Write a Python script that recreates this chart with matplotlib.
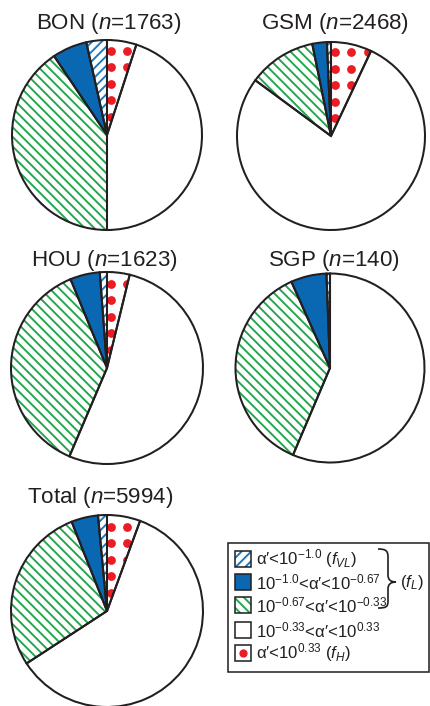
import matplotlib
matplotlib.use("Agg")
import matplotlib.pyplot as plt
import numpy as np
from matplotlib.patches import Rectangle, PathPatch
from matplotlib.path import Path

plt.rcParams["font.family"] = ["Liberation Sans", "DejaVu Sans"]
plt.rcParams["mathtext.fontset"] = "custom"
plt.rcParams["mathtext.rm"] = "Liberation Sans"
plt.rcParams["mathtext.it"] = "Liberation Sans:italic"
plt.rcParams["mathtext.bf"] = "Liberation Sans:bold"
plt.rcParams["hatch.linewidth"] = 1.6

DPI = 86
W, H = 430, 706

# data (percent of cases in each alpha' class)
sites = ["BON", "GSM", "HOU", "SGP", "Total"]
counts = [1763, 2468, 1623, 140, 5994]
frac_vl = [3.5, 0.7, 1.2, 0.6, 1.5]
frac_low = [5.9, 2.5, 5.0, 6.1, 4.5]
frac_midlow = [40.6, 11.7, 37.4, 36.9, 28.2]
frac_mid = [45.0, 78.1, 52.6, 56.4, 60.2]
frac_high = [5.0, 7.0, 3.8, 0.0, 5.6]

legend_labels = [
    "α′<$10^{-1.0}$ ($f_{VL}$)",
    "$10^{-1.0}$<α′<$10^{-0.67}$",
    "$10^{-0.67}$<α′<$10^{-0.33}$",
    "$10^{-0.33}$<α′<$10^{0.33}$",
    "α′<$10^{0.33}$ ($f_H$)",
]

BLUE = "#0a67b2"
BLUE_HATCH = "#1b78c0"
GREEN = "#22a64d"
RED = "#ec1c24"
EDGE = "#231f20"

face_colors = ["white", BLUE, "white", "white", "white"]
hatches = ["///", None, "\\\\\\", None, None]
hatch_colors = [BLUE_HATCH, BLUE, GREEN, "white", "white"]

# pie centres / radii in pixels (y from top)
centers = [(107, 135, 95), (331, 136, 94), (107, 368, 96), (330, 368, 94.5), (107, 611, 96)]
title_pos = [(109, 29), (335, 29), (104, 266), (334, 266), (100, 503)]

fig = plt.figure(figsize=(W / DPI, H / DPI), dpi=DPI)

pad = 1.04
for k, site in enumerate(sites):
    cx, cy, r = centers[k]
    R = r * pad
    ax = fig.add_axes([(cx - R) / W, 1 - (cy + R) / H, 2 * R / W, 2 * R / H])
    values = [frac_vl[k], frac_low[k], frac_midlow[k], frac_mid[k], frac_high[k]]
    wedges, _ = ax.pie(values, colors=face_colors, startangle=90, counterclock=True,
                       radius=1, wedgeprops=dict(linewidth=0))
    for w, h, hc in zip(wedges, hatches, hatch_colors):
        w.set_edgecolor(hc)
        if h:
            w.set_hatch(h)

    # red dots in the f_H wedge
    step = 16.5 / r
    gx = 0.04 + step * np.arange(-7, 8)
    gy = 0.19 + step * np.arange(-7, 8)
    xx, yy = np.meshgrid(gx, gy)
    sc = ax.scatter(xx.ravel(), yy.ravel(), s=54, color=RED, linewidths=0, zorder=3)
    sc.set_clip_path(wedges[4])

    ax.pie(values, startangle=90, counterclock=True, radius=1,
           wedgeprops=dict(fill=False, edgecolor=EDGE, linewidth=1.7, zorder=4))
    ax.set_xlim(-pad, pad)
    ax.set_ylim(-pad, pad)
    ax.set_aspect("equal")
    ax.axis("off")

# overlay in pixel coordinates for titles and legend
ov = fig.add_axes([0, 0, 1, 1])
ov.set_xlim(0, W)
ov.set_ylim(H, 0)
ov.axis("off")

for k, site in enumerate(sites):
    tx, ty = title_pos[k]
    ov.text(tx, ty, f"{site} ($n$={counts[k]})", ha="center", va="baseline",
            fontsize=18.7, color=EDGE)

ov.add_patch(Rectangle((228, 543), 201, 129, fill=False, edgecolor=EDGE, linewidth=1.3))

row_y = [559, 582, 605, 630, 653]
sq = 16
for i, label in enumerate(legend_labels):
    y = row_y[i]
    p = Rectangle((235, y - sq / 2), sq, sq, facecolor=face_colors[i],
                  edgecolor=hatch_colors[i], linewidth=0)
    if hatches[i]:
        p.set_hatch(hatches[i])
    ov.add_patch(p)
    ov.add_patch(Rectangle((235, y - sq / 2), sq, sq, fill=False, edgecolor=EDGE, linewidth=1.3))
    if i == 4:
        ov.scatter([235 + sq / 2], [y], s=48, color=RED, linewidths=0)
    ov.text(256, y, label, ha="left", va="center", fontsize=14, color=EDGE)

brace = Path(
    [(378, 549), (386, 549), (388, 551), (388, 557),
     (388, 575),
     (388, 580), (391, 582), (396, 582),
     (391, 582), (388, 584), (388, 589),
     (388, 601),
     (388, 607), (386, 608), (378, 608)],
    [Path.MOVETO, Path.CURVE4, Path.CURVE4, Path.CURVE4,
     Path.LINETO,
     Path.CURVE4, Path.CURVE4, Path.CURVE4,
     Path.CURVE4, Path.CURVE4, Path.CURVE4,
     Path.LINETO,
     Path.CURVE4, Path.CURVE4, Path.CURVE4],
)
ov.add_patch(PathPatch(brace, fill=False, edgecolor=EDGE, linewidth=1.4))
ov.text(400, 582, "($f_L$)", ha="left", va="center", fontsize=14, color=EDGE)

fig.savefig("out.png", dpi=DPI)
